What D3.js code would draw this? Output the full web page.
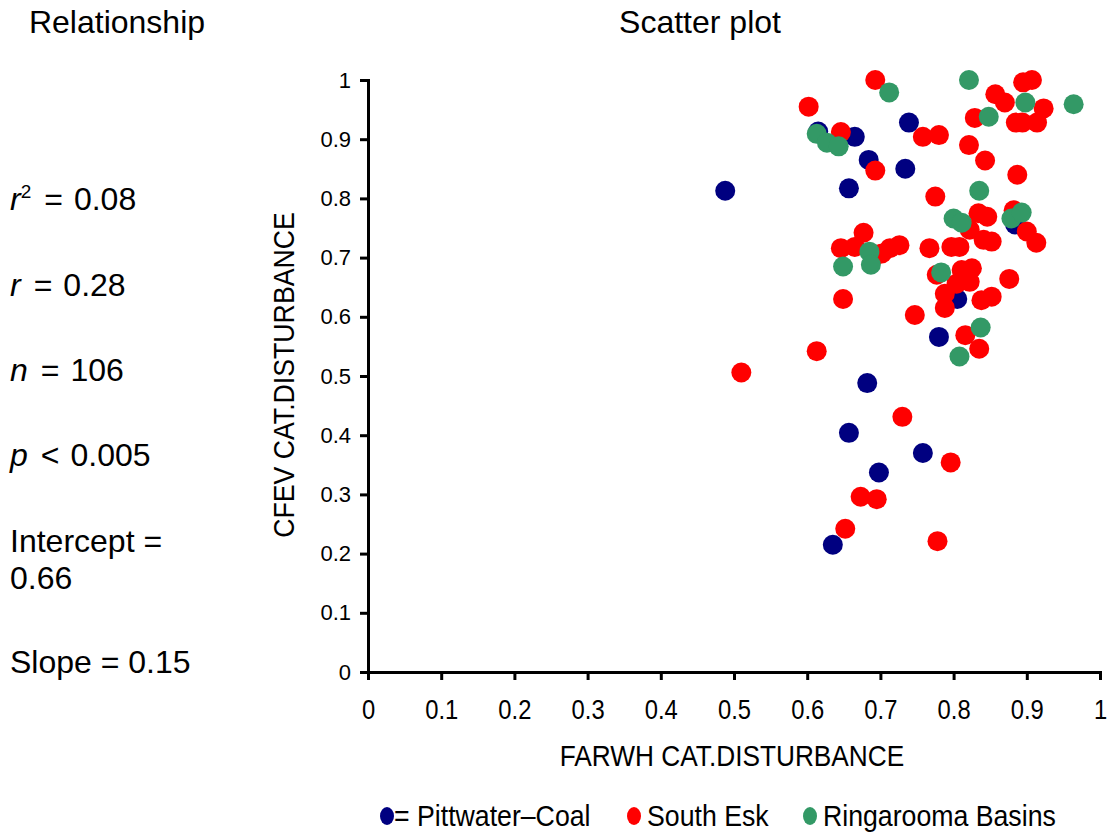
<!DOCTYPE html>
<html>
<head>
<meta charset="utf-8">
<script src="https://cdn.jsdelivr.net/npm/d3@7"></script>
<style>
  body { margin: 0; background: #fff; }
  svg { display: block; font-family: "Liberation Sans", Arial, sans-serif; }
</style>
</head>
<body>
<div id="chart"></div>
<script>
(function(){
  // data (FARWH score, CFEV score)
  const pittwater = [
    [0.488, 0.813], [0.615, 0.913], [0.665, 0.904], [0.739, 0.928], [0.684, 0.865],
    [0.734, 0.850], [0.657, 0.817], [0.884, 0.756], [0.805, 0.630], [0.780, 0.566],
    [0.682, 0.488], [0.657, 0.404], [0.758, 0.370], [0.698, 0.337], [0.635, 0.215]
  ];
  const southEsk = [
    [0.693, 1.0], [0.602, 0.955], [0.646, 0.912], [0.693, 0.847], [0.758, 0.904],
    [0.780, 0.907], [0.775, 0.803], [0.821, 0.890], [0.843, 0.864], [0.887, 0.840],
    [0.829, 0.936], [0.857, 0.976], [0.870, 0.962], [0.895, 0.996], [0.907, 1.0],
    [0.923, 0.952], [0.885, 0.928], [0.894, 0.928], [0.914, 0.928], [0.834, 0.775],
    [0.846, 0.769], [0.882, 0.780], [0.900, 0.744], [0.913, 0.725], [0.822, 0.747],
    [0.841, 0.730], [0.852, 0.727], [0.677, 0.742], [0.646, 0.716], [0.665, 0.718],
    [0.695, 0.705], [0.702, 0.707], [0.713, 0.716], [0.726, 0.721], [0.767, 0.716],
    [0.797, 0.718], [0.808, 0.718], [0.777, 0.671], [0.811, 0.679], [0.825, 0.682],
    [0.822, 0.659], [0.804, 0.656], [0.788, 0.639], [0.788, 0.615], [0.876, 0.664],
    [0.838, 0.628], [0.852, 0.634], [0.649, 0.630], [0.747, 0.603], [0.816, 0.569],
    [0.835, 0.546], [0.613, 0.542], [0.510, 0.506], [0.730, 0.431], [0.796, 0.354],
    [0.673, 0.296], [0.695, 0.292], [0.652, 0.242], [0.778, 0.221]
  ];
  const ringarooma = [
    [0.712, 0.979], [0.821, 1.0], [0.613, 0.909], [0.627, 0.894], [0.643, 0.888],
    [0.898, 0.962], [0.964, 0.959], [0.848, 0.938], [0.835, 0.813], [0.800, 0.766],
    [0.811, 0.759], [0.879, 0.766], [0.893, 0.776], [0.685, 0.710], [0.687, 0.688],
    [0.649, 0.685], [0.783, 0.675], [0.837, 0.582], [0.808, 0.533]
  ];
  const tickValues = [0, 0.1, 0.2, 0.3, 0.4, 0.5, 0.6, 0.7, 0.8, 0.9, 1];
  const seriesNames = ['= Pittwater\u2013Coal', 'South Esk', 'Ringarooma Basins'];
  const seriesColors = ['#000080', '#ff0000', '#339966'];

  const width = 1110, height = 834;
  const svg = d3.select('#chart').append('svg')
    .attr('width', width)
    .attr('height', height);

  const x = d3.scaleLinear().domain([0, 1]).range([368, 1100]);
  const y = d3.scaleLinear().domain([0, 1]).range([672, 80]);

  // titles
  svg.append('text').attr('x', 117).attr('y', 33)
    .attr('text-anchor', 'middle').style('font-size', '32px').text('Relationship');
  svg.append('text').attr('x', 700).attr('y', 33)
    .attr('text-anchor', 'middle').style('font-size', '32px').text('Scatter plot');

  // stats block on the left
  const stats = svg.append('g').style('font-size', '32px');
  const line = function(yy) { return stats.append('text').attr('x', 10).attr('y', yy); };
  const statLine = function(yy, v, sup, op, val) {
    const t = line(yy);
    t.append('tspan').style('font-style', 'italic').text(v);
    if (sup) t.append('tspan').attr('dy', -12).style('font-size', '19px').text(sup);
    t.append('tspan').attr('dy', sup ? 12 : 0).attr('dx', 13).text(op);
    t.append('tspan').attr('dx', 11).text(val);
  };
  statLine(210, 'r', '2', '=', '0.08');
  statLine(296, 'r', null, '=', '0.28');
  statLine(381, 'n', null, '=', '106');
  statLine(466, 'p', null, '<', '0.005');
  line(552).text('Intercept =');
  line(589).text('0.66');
  line(673).text('Slope = 0.15');

  // axes
  const xAxis = svg.append('g')
    .attr('transform', 'translate(0,' + y(0) + ')')
    .call(d3.axisBottom(x).tickValues(tickValues).tickSize(8).tickPadding(19)
      .tickFormat(function(d) { return d3.format('')(d); }));
  xAxis.selectAll('text')
    .style('font-size', '28px')
    .attr('fill', '#000')
    .attr('transform', 'scale(0.85,1)');

  const yAxis = svg.append('g')
    .attr('transform', 'translate(' + x(0) + ',0)')
    .call(d3.axisLeft(y).tickValues(tickValues).tickSize(8).tickPadding(9)
      .tickFormat(function(d) { return d3.format('')(d); }));
  yAxis.selectAll('text').style('font-size', '22px').attr('fill', '#000');

  svg.selectAll('.domain').attr('stroke', '#000').attr('stroke-width', 3);
  svg.selectAll('.tick line').attr('stroke', '#000').attr('stroke-width', 3);

  // condensed look: scale glyphs horizontally
  svg.append('g').attr('transform', 'translate(732,766) scale(0.875,1)')
    .append('text')
    .attr('text-anchor', 'middle').style('font-size', '30px')
    .text('FARWH CAT.DISTURBANCE');
  svg.append('g').attr('transform', 'translate(294,375) rotate(-90) scale(0.89,1)')
    .append('text')
    .attr('text-anchor', 'middle').style('font-size', '30px')
    .text('CFEV CAT.DISTURBANCE');

  // points: blue first, then red, then green on top
  [pittwater, southEsk, ringarooma].forEach(function(series, i) {
    svg.append('g').selectAll('circle')
      .data(series)
      .enter().append('circle')
      .attr('cx', function(d) { return x(d[0]); })
      .attr('cy', function(d) { return y(d[1]); })
      .attr('r', 10)
      .attr('fill', seriesColors[i]);
  });

  // legend
  const legendX = [387, 634, 810];
  const legend = svg.selectAll('.legend')
    .data(seriesNames)
    .enter().append('g')
    .attr('class', 'legend')
    .attr('transform', function(d, i) { return 'translate(' + legendX[i] + ',816)'; });
  legend.append('ellipse')
    .attr('rx', 7).attr('ry', 9)
    .attr('fill', function(d, i) { return seriesColors[i]; });
  legend.append('g')
    .attr('transform', function(d, i) { return 'translate(' + (i === 0 ? 7 : 13) + ',10) scale(0.89,1)'; })
    .append('text')
    .style('font-size', '30px')
    .text(function(d) { return d; });
})();
</script>
</body>
</html>
